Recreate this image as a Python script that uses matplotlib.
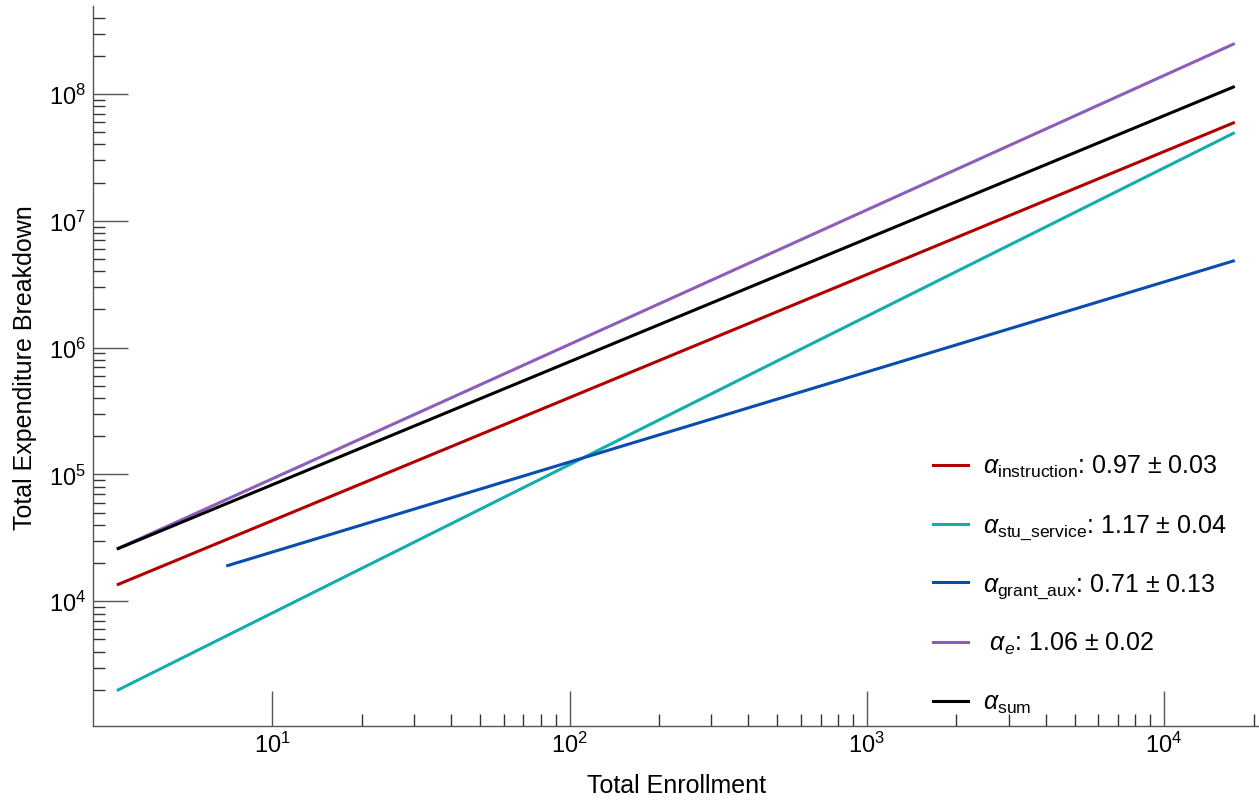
import matplotlib
matplotlib.use("Agg")
import matplotlib.pyplot as plt
from matplotlib.lines import Line2D
from matplotlib.ticker import FixedLocator, LogFormatterMathtext, NullFormatter
import numpy as np

plt.rcParams["font.family"] = ["Liberation Sans", "DejaVu Sans"]
plt.rcParams["mathtext.fontset"] = "custom"
plt.rcParams["mathtext.rm"] = "Liberation Sans"
plt.rcParams["mathtext.it"] = "Liberation Sans:italic"
plt.rcParams["mathtext.bf"] = "Liberation Sans:bold"

# Power-law fits of expenditure vs enrollment
labels = [
    r"$\alpha_{\mathrm{instruction}}$: 0.97 ± 0.03",
    r"$\alpha_{\mathrm{stu\_service}}$: 1.17 ± 0.04",
    r"$\alpha_{\mathrm{grant\_aux}}$: 0.71 ± 0.13",
    r" $\alpha_e$: 1.06 ± 0.02",
    r"$\alpha_{\mathrm{sum}}$",
]
colors = ["#b20000", "#14adad", "#0a4cb0", "#8c5dba", "#000000"]
enroll_start = [3.0, 3.0, 7.0, 3.0, 3.0]
enroll_end = [17300, 17300, 17300, 17300, 17300]
expend_start = [13450, 1975, 18970, 25800, 25800]
exponents = [0.97, 1.17, 0.71, 1.06, 0.97]

W, H = 1259, 803
fig = plt.figure(figsize=(W / 100, H / 100), dpi=100)

ax_left, ax_right, ax_bottom, ax_top = 93.3, 1259.0, 727.0, 7.3
ax = fig.add_axes([ax_left / W, 1 - ax_bottom / H,
                   (ax_right - ax_left) / W, (ax_bottom - ax_top) / H])

for xs, xe, ys, a, c in zip(enroll_start, enroll_end, expend_start, exponents, colors):
    x = np.array([xs, xe])
    y = ys * (x / xs) ** a
    ax.plot(x, y, color=c, lw=2.2, solid_capstyle="butt")

ax.set_xscale("log")
ax.set_yscale("log")
ax.set_xlim(10 ** 0.398, 10 ** 4.3195)
ax.set_ylim(10 ** 3.0166, 10 ** 8.6916)

for s in ["top", "right"]:
    ax.spines[s].set_visible(False)
for s in ["left", "bottom"]:
    ax.spines[s].set_color("#555555")
    ax.spines[s].set_linewidth(1.0)

ax.xaxis.set_major_locator(FixedLocator([1e1, 1e2, 1e3, 1e4]))
ax.xaxis.set_minor_locator(FixedLocator([k * 10 ** n for n in range(1, 5) for k in range(2, 10)]))
ax.yaxis.set_major_locator(FixedLocator([10 ** n for n in range(3, 10)]))
ax.yaxis.set_minor_locator(FixedLocator([k * 10 ** n for n in range(3, 9) for k in range(2, 10)]))
ax.xaxis.set_major_formatter(LogFormatterMathtext())
ax.yaxis.set_major_formatter(LogFormatterMathtext())
ax.xaxis.set_minor_formatter(NullFormatter())
ax.yaxis.set_minor_formatter(NullFormatter())

ax.tick_params(which="major", direction="in", length=25, width=1.0, color="#555555",
               labelsize=17, pad=5)
ax.tick_params(which="minor", direction="in", length=8.5, width=1.0, color="#333333")
ax.tick_params(axis="x", which="major", pad=4)

ax.set_xlabel("Total Enrollment", fontsize=18, labelpad=12)
ax.set_ylabel("Total Expenditure Breakdown", fontsize=18, labelpad=9)

# Legend drawn in pixel space on the right side
row_y = [465.7, 525.0, 583.3, 642.7, 702.3]
for ly, lab, c in zip(row_y, labels, colors):
    fig.add_artist(Line2D([932.7 / W, 968.3 / W], [1 - ly / H, 1 - ly / H],
                          color=c, lw=2.2, transform=fig.transFigure))
    fig.text(982.7 / W, 1 - (ly + 7.9) / H, lab, fontsize=18, va="baseline", ha="left")

fig.savefig("out.png", dpi=100)
